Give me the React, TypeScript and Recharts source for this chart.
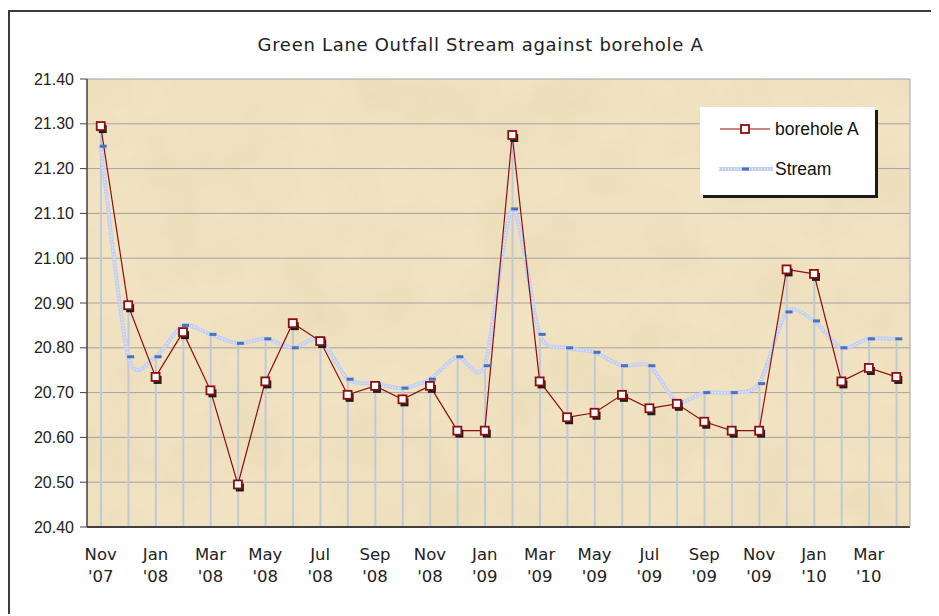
import React from "react";
import {
  ComposedChart, Line, Bar, XAxis, YAxis, CartesianGrid, Legend,
} from "recharts";

const months = [
  "Nov '07", "Dec '07", "Jan '08", "Feb '08", "Mar '08", "Apr '08", "May '08", "Jun '08",
  "Jul '08", "Aug '08", "Sep '08", "Oct '08", "Nov '08", "Dec '08", "Jan '09", "Feb '09",
  "Mar '09", "Apr '09", "May '09", "Jun '09", "Jul '09", "Aug '09", "Sep '09", "Oct '09",
  "Nov '09", "Dec '09", "Jan '10", "Feb '10", "Mar '10", "Apr '10",
];

const boreholeA = [
  21.295, 20.895, 20.735, 20.835, 20.705, 20.495, 20.725, 20.855,
  20.815, 20.695, 20.715, 20.685, 20.715, 20.615, 20.615, 21.275,
  20.725, 20.645, 20.655, 20.695, 20.665, 20.675, 20.635, 20.615,
  20.615, 20.975, 20.965, 20.725, 20.755, 20.735,
];

const stream = [
  21.25, 20.78, 20.78, 20.85, 20.83, 20.81, 20.82, 20.8,
  20.82, 20.73, 20.72, 20.71, 20.73, 20.78, 20.76, 21.11,
  20.83, 20.8, 20.79, 20.76, 20.76, 20.68, 20.7, 20.7,
  20.72, 20.88, 20.86, 20.8, 20.82, 20.82,
];

const yTicks = [20.4, 20.5, 20.6, 20.7, 20.8, 20.9, 21.0, 21.1, 21.2, 21.3, 21.4];

const data = months.map((month, i) => ({
  month,
  borehole: boreholeA[i],
  stream: stream[i],
  drop: Math.max(boreholeA[i], stream[i]),
}));

// Excel-style smoothed line (cardinal spline through the points)
function excelSmooth(context: any) {
  let pts: number[][] = [];
  const k = 7.5;
  return {
    areaStart() {},
    areaEnd() {},
    lineStart() { pts = []; },
    lineEnd() {
      const n = pts.length;
      if (!n) return;
      context.moveTo(pts[0][0], pts[0][1]);
      for (let i = 0; i < n - 1; i++) {
        const p0 = pts[Math.max(i - 1, 0)], p1 = pts[i], p2 = pts[i + 1], p3 = pts[Math.min(i + 2, n - 1)];
        context.bezierCurveTo(
          p1[0] + (p2[0] - p0[0]) / k, p1[1] + (p2[1] - p0[1]) / k,
          p2[0] - (p3[0] - p1[0]) / k, p2[1] - (p3[1] - p1[1]) / k,
          p2[0], p2[1],
        );
      }
    },
    point(x: number, y: number) { pts.push([+x, +y]); },
  };
}

const BoreDot = (props: any) => {
  const { cx, cy, index } = props;
  if (cx == null || cy == null) return null;
  return (
    <g key={`b${index}`}>
      <rect x={cx - 2} y={cy - 1} width={8} height={8} fill="#1c1c1c" />
      <rect x={cx - 4} y={cy - 4} width={8} height={8} fill="#fff" stroke="#8b0f0f" strokeWidth={1.8} />
    </g>
  );
};

const StreamDot = (props: any) => {
  const { cx, cy, index } = props;
  if (cx == null || cy == null) return null;
  return <rect key={`s${index}`} x={cx - 1} y={cy - 1.5} width={7} height={3} fill="#4a70c2" />;
};

const XTick = ({ x, y, payload }: any) => {
  const [m, yr] = String(payload.value).split(" ");
  return (
    <text x={x} y={y} textAnchor="middle" fill="#222" fontFamily="'DejaVu Sans', Verdana" fontSize={16.5}>
      <tspan x={x} dy={25}>{m}</tspan>
      <tspan x={x} dy={22}>{yr}</tspan>
    </text>
  );
};

const LegendBox = ({ payload }: any) => (
  <svg width={182} height={96} style={{ display: "block" }}>
    <rect x={3} y={3} width={175} height={88} fill="#1a1a1a" />
    <rect x={0} y={0} width={175} height={88} fill="#fff" />
    {(payload || []).filter((p: any) => p.type !== "none").map((p: any) => {
      const isBore = p.dataKey === "borehole";
      const cy = isBore ? 22 : 62;
      return (
        <g key={String(p.value)}>
          {isBore ? (
            <>
              <line x1={20} x2={70} y1={cy} y2={cy} stroke="#8b0f0f" strokeWidth={1.2} />
              <rect x={41} y={cy - 4} width={8} height={8} fill="#fff" stroke="#8b0f0f" strokeWidth={1.8} />
            </>
          ) : (
            <>
              <line x1={19} x2={73} y1={cy} y2={cy} stroke="#c6d0ee" strokeWidth={4} />
              <line x1={19} x2={73} y1={cy} y2={cy} stroke="#fff" strokeWidth={1.5} strokeDasharray="1 2" opacity={0.6} />
              <rect x={42} y={cy - 1.5} width={7} height={3} fill="#4a70c2" />
            </>
          )}
          <text x={75} y={cy + 6} fontFamily="'Liberation Sans', Arial" fontSize={17.5} fill="#111">{p.value}</text>
        </g>
      );
    })}
  </svg>
);

export default function App() {
  return (
    <div
      style={{
        position: "relative", top: 2, width: 929, height: 604,
        borderTop: "2px solid #3c3c3c", borderLeft: "2px solid #3c3c3c", background: "#fff",
      }}
    >
      <div
        style={{
          position: "absolute", left: 0, width: 941, top: 22, textAlign: "center",
          fontFamily: "'DejaVu Sans', Verdana", fontSize: 18, letterSpacing: 0.7, color: "#222",
        }}
      >
        Green Lane Outfall Stream against borehole A
      </div>
      <ComposedChart width={929} height={604} data={data} margin={{ top: 67, right: 28, bottom: 29, left: 0 }}>
        <defs>
          <filter id="paperNoise" x="0" y="0" width="100%" height="100%">
            <feTurbulence type="fractalNoise" baseFrequency="0.015" numOctaves={4} seed={7} />
            <feColorMatrix type="matrix" values="0 0 0 0 0.80  0 0 0 0 0.68  0 0 0 0 0.45  0 0 0 1.4 -0.45" />
          </filter>
          <pattern id="paper" patternUnits="userSpaceOnUse" width={929} height={604}>
            <rect width={929} height={604} fill="#f1e3c2" />
            <rect width={929} height={604} filter="url(#paperNoise)" opacity={0.7} />
          </pattern>
        </defs>
        <CartesianGrid horizontal vertical={false} stroke="#a4a4a4" fill="url(#paper)" fillOpacity={1} />
        <XAxis
          dataKey="month"
          interval={1}
          tickLine={false}
          axisLine={{ stroke: "#404040", strokeWidth: 2 }}
          tick={<XTick />}
          height={60}
        />
        <YAxis
          domain={[20.4, 21.4]}
          ticks={yTicks}
          tickFormatter={(v: number) => v.toFixed(2)}
          width={77}
          tickSize={7}
          tickMargin={6}
          axisLine={{ stroke: "#404040", strokeWidth: 1.5 }}
          tickLine={{ stroke: "#404040" }}
          tick={{ fill: "#222", fontSize: 16, fontFamily: "'Liberation Sans', Arial" }}
          allowDataOverflow
        />
        <YAxis
          yAxisId="frame"
          orientation="right"
          domain={[20.4, 21.4]}
          ticks={yTicks}
          tick={false}
          tickLine={false}
          width={1}
          axisLine={{ stroke: "#a8a8a8" }}
        />
        <Legend
          layout="vertical"
          align="center"
          verticalAlign="middle"
          content={<LegendBox />}
          wrapperStyle={{ position: "absolute", left: 690, top: 95, width: 182, height: 96 }}
        />
        <Bar dataKey="drop" barSize={2} fill="#c3c8d6" legendType="none" isAnimationActive={false} />
        <Line
          dataKey="stream"
          name="Stream"
          type={excelSmooth as any}
          stroke="#c6d0ee"
          strokeWidth={4}
          dot={<StreamDot />}
          activeDot={false}
          isAnimationActive={false}
        />
        <Line
          dataKey="stream"
          name="streamHatch"
          legendType="none"
          type={excelSmooth as any}
          stroke="#ffffff"
          strokeOpacity={0.6}
          strokeWidth={1.5}
          strokeDasharray="1 2"
          dot={false}
          activeDot={false}
          isAnimationActive={false}
        />
        <Line
          dataKey="borehole"
          name="borehole A"
          type="linear"
          stroke="#8b0f0f"
          strokeWidth={1.2}
          dot={<BoreDot />}
          activeDot={false}
          isAnimationActive={false}
        />
      </ComposedChart>
    </div>
  );
}
